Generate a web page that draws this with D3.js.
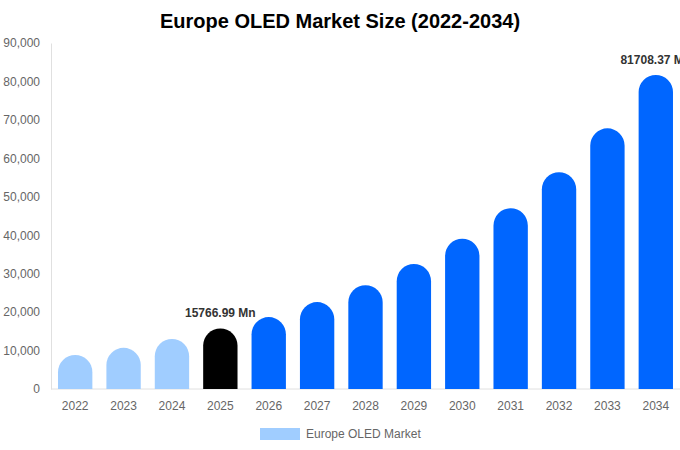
<!DOCTYPE html>
<html>
<head>
    <meta charset="utf-8">
    <style>
        body { margin: 0; background: #fff; font-family: 'Liberation Sans', Arial, sans-serif; }
        svg { display: block; }
    </style>
</head>
<body>
    <svg width="680" height="450"></svg>

<script src="https://d3js.org/d3.v7.min.js"></script>
<script>
    // data
    let years = ["2022", "2023", "2024", "2025", "2026", "2027", "2028", "2029", "2030", "2031", "2032", "2033", "2034"];
    let values = [8850, 10700, 13000, 15766.99, 18700, 22600, 27000, 32500, 39100, 47000, 56400, 67800, 81708.37];
    let yTicks = [0, 10000, 20000, 30000, 40000, 50000, 60000, 70000, 80000, 90000];
    let labelled = { "2025": "15766.99 Mn", "2034": "81708.37 Mn" };

    let svg = d3.select("svg");
    let margin = { top: 43, right: 0, bottom: 61, left: 51 };
    let width = 680, height = 450;

    let x = d3.scaleBand()
        .domain(years)
        .range([margin.left, width - margin.right])
        .paddingInner(0.29)
        .paddingOuter(0.145);

    let y = d3.scaleLinear()
        .domain([0, 90000])
        .range([height - margin.bottom, margin.top]);

    // title
    svg.append("text")
        .attr("x", 340)
        .attr("y", 28)
        .attr("text-anchor", "middle")
        .style("font-size", "20px")
        .style("font-weight", "bold")
        .style("fill", "#000")
        .text("Europe OLED Market Size (2022-2034)");

    // y axis
    let yAxis = svg.append("g")
        .attr("transform", `translate(${margin.left},0)`)
        .call(d3.axisLeft(y).tickValues(yTicks).tickSize(0).tickPadding(11).tickFormat(d3.format(",")));
    yAxis.select(".domain").attr("stroke", "#e0e0e0");
    yAxis.selectAll("text").style("font-size", "12px").style("fill", "#666").style("font-family", "'Liberation Sans', Arial, sans-serif");

    // x axis
    let xAxis = svg.append("g")
        .attr("transform", `translate(0,${height - margin.bottom})`)
        .call(d3.axisBottom(x).tickSize(0).tickPadding(12));
    xAxis.select(".domain").attr("stroke", "#e0e0e0").attr("d", `M${margin.left},0H${width}`);
    xAxis.selectAll("text").style("font-size", "12px").style("fill", "#666").style("font-family", "'Liberation Sans', Arial, sans-serif");

    function colorFor(yr) {
        if (+yr < 2025) return "#a0cdff";
        if (+yr === 2025) return "#000000";
        return "#0066ff";
    }

    // bars with rounded top
    let bw = x.bandwidth();
    let r = bw / 2;
    svg.selectAll(".bar")
        .data(years)
        .join("path")
        .attr("class", "bar")
        .attr("fill", d => colorFor(d))
        .attr("d", (d, i) => {
            let x0 = x(d), x1 = x0 + bw;
            let yb = y(0), yt = y(values[i]);
            let rr = Math.min(r, yb - yt);
            return `M${x0},${yb}V${yt + rr}A${rr},${rr} 0 0 1 ${x1},${yt + rr}V${yb}Z`;
        });

    // value labels
    svg.selectAll(".vlabel")
        .data(years.filter(d => labelled[d]))
        .join("text")
        .attr("class", "vlabel")
        .attr("x", d => x(d) + bw / 2)
        .attr("y", d => y(values[years.indexOf(d)]) - 11)
        .attr("text-anchor", "middle")
        .style("font-size", "12px")
        .style("font-weight", "bold")
        .style("fill", "#333")
        .text(d => labelled[d]);

    // legend
    let legend = svg.append("g").attr("transform", "translate(260,428)");
    legend.append("rect")
        .attr("width", 40)
        .attr("height", 12)
        .attr("fill", "#a0cdff");
    legend.append("text")
        .attr("x", 46)
        .attr("y", 9.5)
        .style("font-size", "12px")
        .style("fill", "#666")
        .text("Europe OLED Market");
</script>
</body>
</html>
